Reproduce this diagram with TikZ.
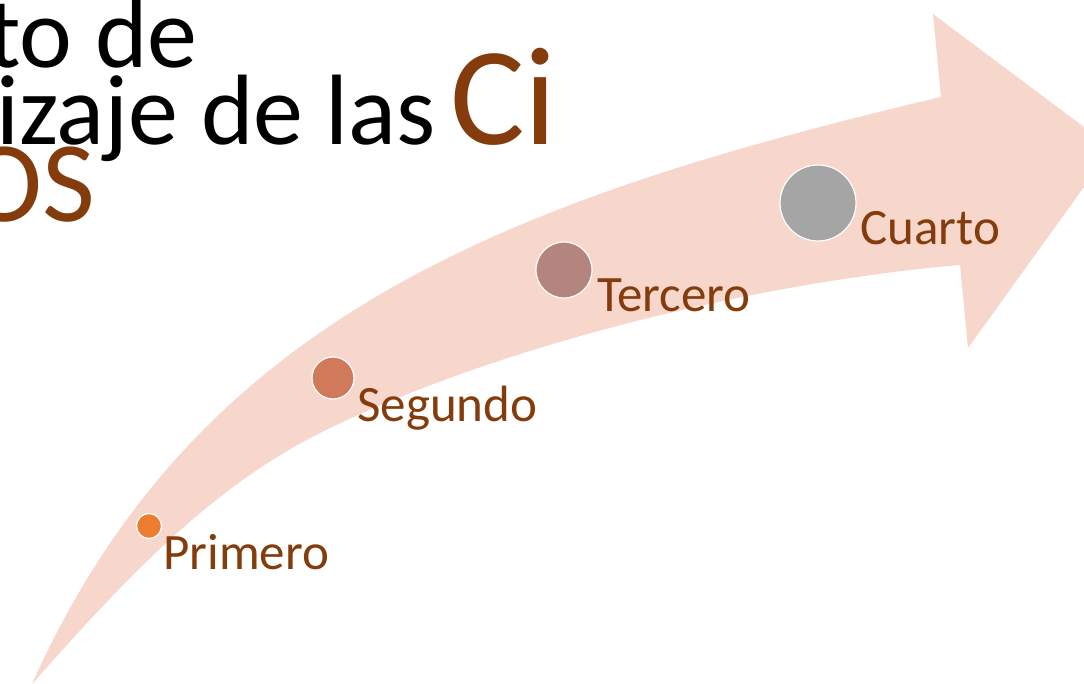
\documentclass[tikz,border=0pt]{standalone}
\usepackage{fontspec}
\setmainfont{Carlito}
\definecolor{arrowpink}{HTML}{F7D6CB}
\definecolor{darkbrown}{HTML}{843C0C}
\definecolor{dotA}{HTML}{ED7D31}
\definecolor{dotB}{HTML}{D07A5B}
\definecolor{dotC}{HTML}{B4857E}
\definecolor{dotD}{HTML}{A5A5A5}
\tikzset{
  dot/.style={circle, draw=white, line width=1.2pt, inner sep=0pt},
  lbl/.style={anchor=base west, inner sep=0pt, text=darkbrown, font=\fontsize{51}{61}\selectfont},
  ttl/.style={anchor=base west, inner sep=0pt, text=black, font=\fontsize{100}{110}\selectfont},
  big/.style={anchor=base west, inner sep=0pt, text=darkbrown},
}
\begin{document}
\begin{tikzpicture}[x=1pt, y=-1pt]
\useasboundingbox (0,0) rectangle (1084,684);
% curved arrow
\coordinate (tail) at (32,684);
\coordinate (ut) at (941,97);
\coordinate (h1) at (933,14);
\coordinate (tip) at (1112,148);
\coordinate (h2) at (968,348);
\coordinate (lt) at (960,265);
\coordinate (lm) at (320,433);
\fill[arrowpink]
  (tail) .. controls (196,318) and (505,200) .. (ut)
  -- (h1) -- (tip) -- (h2) -- (lt)
  .. controls (761,282) and (499,344) .. (lm)
  .. controls (213,487) and (132,571) .. (tail)
  -- cycle;
% title
\node[ttl] (t1) at (-13,68) {to de};
\node[ttl] (t2) at (-4,145) {izaje de las};
\node[big, font=\fontsize{140}{145}\selectfont] (t3) at (450,145) {Ci};
\node[big, font=\fontsize{115}{120}\selectfont] (t4) at (-34,222) {OS};
% dots
\node[dot, fill=dotA, minimum size=25pt] (c1) at (149,526) {};
\node[dot, fill=dotB, minimum size=42pt] (c2) at (333,378) {};
\node[dot, fill=dotC, minimum size=56pt] (c3) at (564,270) {};
\node[dot, fill=dotD, minimum size=76pt] (c4) at (818,203) {};
% labels
\node[lbl] (l1) at (163,569) {Primero};
\node[lbl] (l2) at (357,421) {Segundo};
\node[lbl] (l3) at (597,312) {Tercero};
\node[lbl] (l4) at (860,245) {Cuarto};
\end{tikzpicture}
\end{document}
